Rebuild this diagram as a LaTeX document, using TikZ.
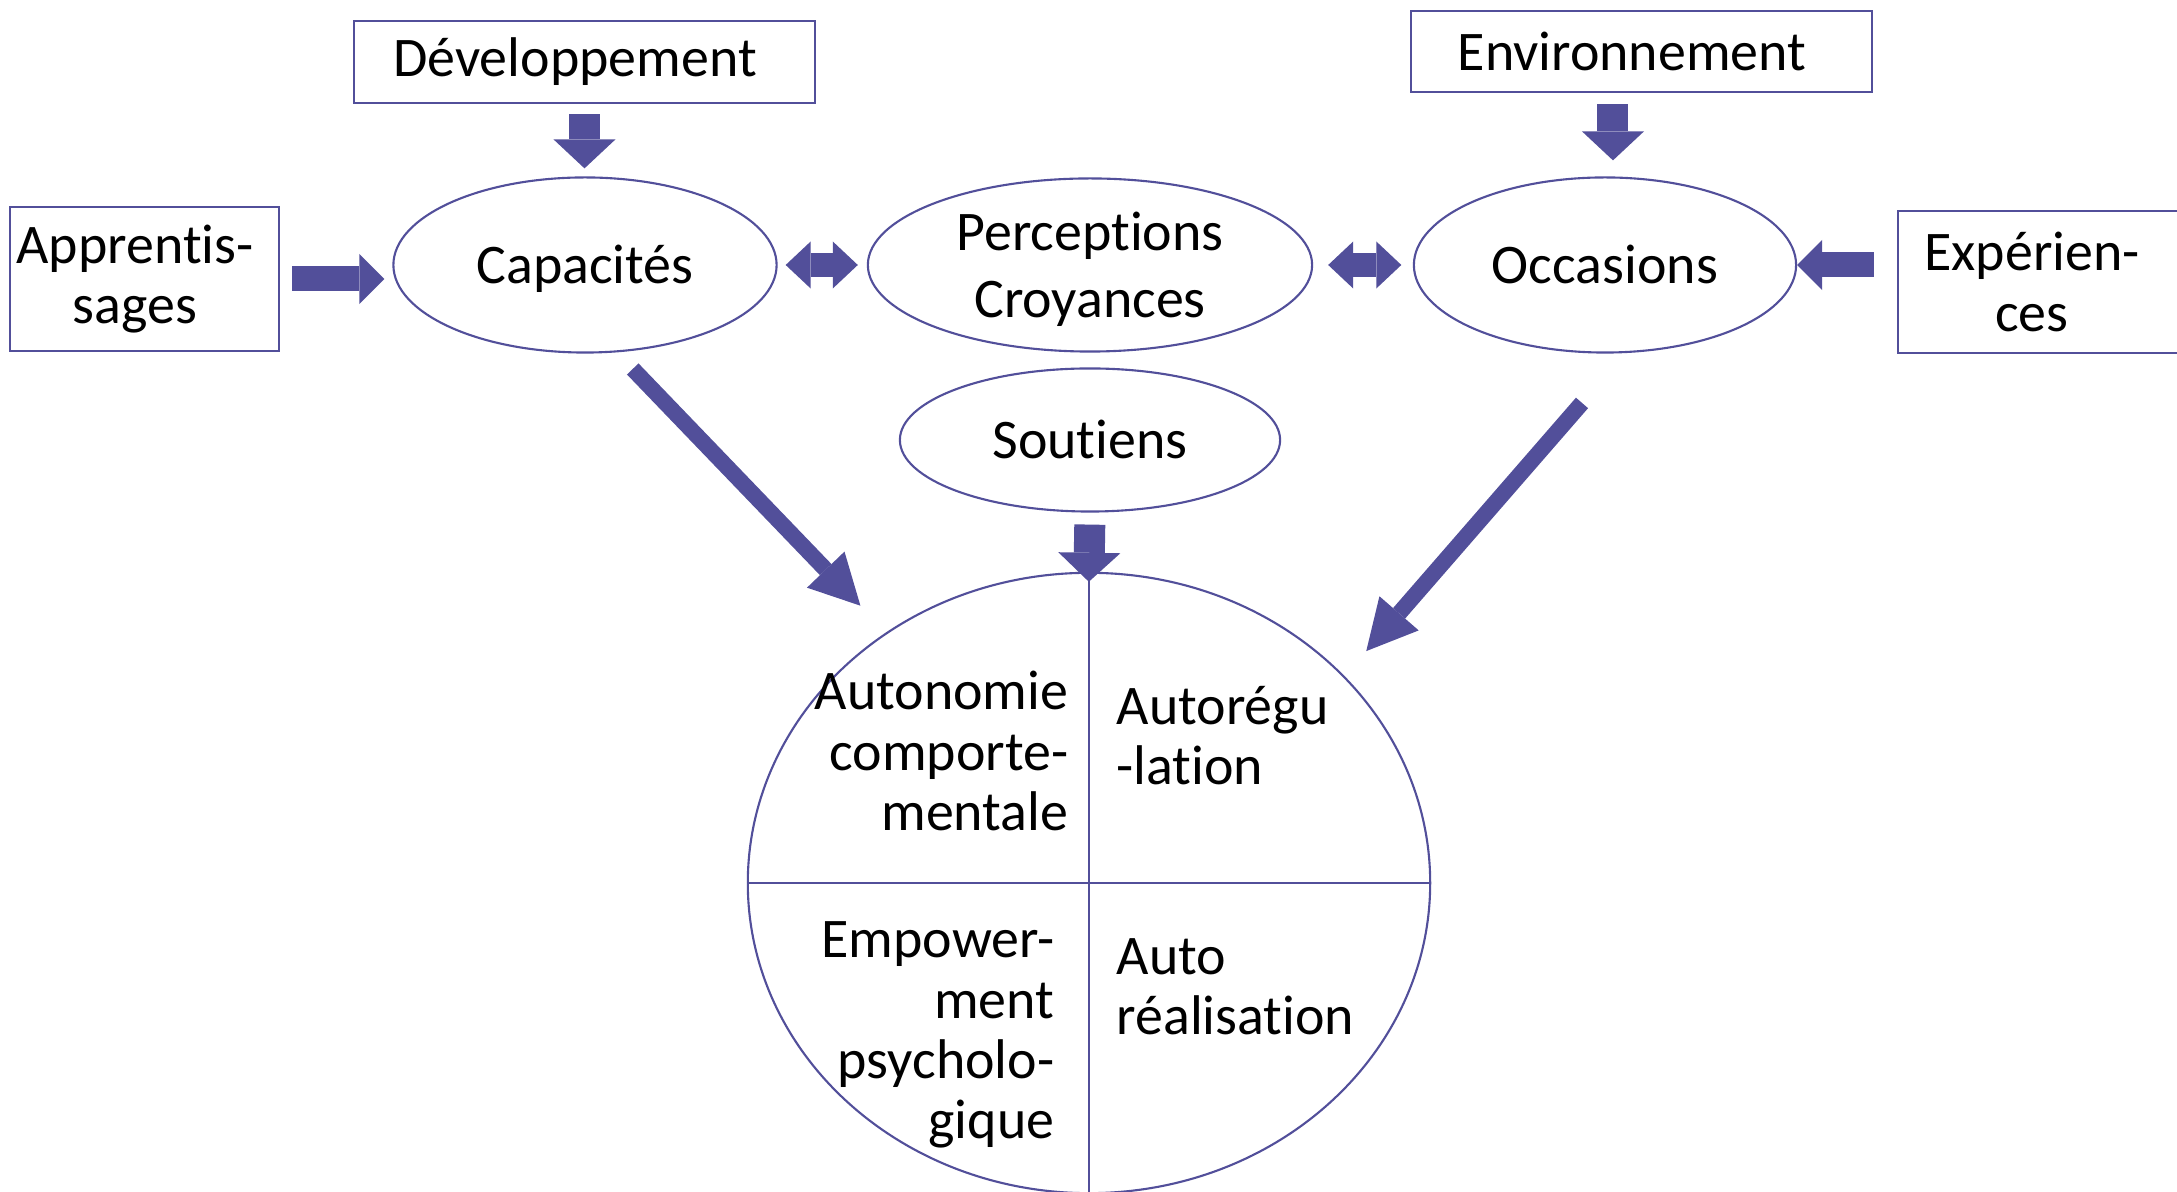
\documentclass[tikz,border=0pt]{standalone}
\usepackage{fontspec}
\setmainfont{Carlito}[RawFeature={-liga}]
\usepackage{tikz}
\usetikzlibrary{arrows.meta, shapes.geometric}
\definecolor{mauve}{RGB}{82,79,154}
\newcommand{\pad}{\hspace*{0.19cm}}

\begin{document}
\begin{tikzpicture}[%
    x=0.01cm, y=-0.01cm,
    box/.style={
      draw=mauve,
      line width=0.6pt,
      rectangle,
      inner sep=0,
      align=center,
      font=\fontsize{15.9}{17.1}\selectfont
    },
    oval/.style={
      draw=mauve,
      line width=0.6pt,
      ellipse,
      inner sep=0,
      align=center,
      text depth=0pt,
      font=\fontsize{15.9}{17.1}\selectfont
    },
    oneline/.style={text height=10.5pt},
    quarter/.style={inner sep=0, font=\fontsize{15.9}{17.1}\selectfont},
    vblock/.style={draw=mauve, line width=0.31cm,
      -{Triangle[width=0.62cm,length=0.29cm,line width=0pt]}},
    hblock/.style={draw=mauve, line width=0.25cm,
      -{Triangle[width=0.50cm,length=0.25cm,line width=0pt]}},
    twoway/.style={draw=mauve, line width=0.24cm,
      {Triangle[width=0.47cm,length=0.25cm,line width=0pt]}-{Triangle[width=0.47cm,length=0.25cm,line width=0pt]}},
    dblock/.style={draw=mauve, line width=0.16cm,
      -{Triangle[width=0.52cm,length=0.50cm,line width=0pt]}}
  ]
    \useasboundingbox (0,0) rectangle (2177,1192);

    % outer boxes
    \node[box, minimum width=4.61cm, minimum height=0.82cm] at (584.5,62) (dev) {Développement\pad};
    \node[box, minimum width=4.61cm, minimum height=0.81cm] at (1641.5,51.5) (env) {Environnement\pad};
    \node[box, minimum width=2.69cm, minimum height=1.44cm] at (144.5,279) (app) {Apprentis-\pad\\sages\pad};
    \node[box, minimum width=2.87cm, minimum height=1.42cm] at (2041.5,282) (exp) {Expérien-\pad\\ces\pad};

    % ovals
    \node[oval, oneline, minimum width=3.83cm, minimum height=1.75cm] at (585,265) (cap) {Capacités};
    \node[oval, minimum width=4.44cm, minimum height=1.73cm,
      font=\fontsize{15.9}{19}\selectfont] at (1090,265) (perc) {Perceptions\\Croyances};
    \node[oval, oneline, minimum width=3.82cm, minimum height=1.75cm] at (1605,265) (occ) {Occasions};
    \node[oval, oneline, minimum width=3.80cm, minimum height=1.43cm] at (1090,440) (sout) {Soutiens};

    % big circle with four parts
    \node[oval, minimum width=6.82cm, minimum height=6.20cm] at (1089,883) (big) {};
    \draw[mauve, line width=0.6pt] (big.north) -- (big.south);
    \draw[mauve, line width=0.6pt] (big.west) -- (big.east);

    \node[quarter, anchor=east, align=right] at (1069,751) (aut) {Autonomie\\comporte-\\mentale};
    \node[quarter, anchor=west, align=left] at (1116,736) (reg) {Autorégu\\-lation};
    \node[quarter, anchor=east, align=right] at (1055,1035) (emp) {Empower-\\ment\\psycholo-\\gique};
    \node[quarter, anchor=west, align=left] at (1116,987) (rea) {Auto\\réalisation};

    % block arrows
    \draw[vblock, shorten <=0.10cm, shorten >=0.08cm] (dev.south) -- (dev.south |- cap.north);
    \draw[vblock, shorten <=0.11cm, shorten >=0.16cm]
        ([xshift=-0.285cm]env.south) -- ([xshift=-0.285cm]env.south |- occ.north);
    \draw[vblock, shorten <=0.12cm, shorten >=-0.10cm] (sout.south) -- (big.north);
    \draw[hblock, shorten <=0.12cm, shorten >=0.08cm] (app.east) -- (app.east -| cap.west);
    \draw[hblock, shorten <=0.23cm] (exp.west |- occ.east) -- (occ.east);
    \draw[twoway, shorten <=0.08cm, shorten >=0.09cm] (cap.east) -- (perc.west);
    \draw[twoway, shorten <=0.15cm, shorten >=0.115cm] (perc.east) -- (occ.west);
    \draw[dblock, shorten <=0.23cm, shorten >=0.37cm] (cap.-70) -- (big.129);
    \draw[dblock, shorten <=0.66cm, shorten >=0.33cm] (occ.-77) -- (big.39);
\end{tikzpicture}
\end{document}
